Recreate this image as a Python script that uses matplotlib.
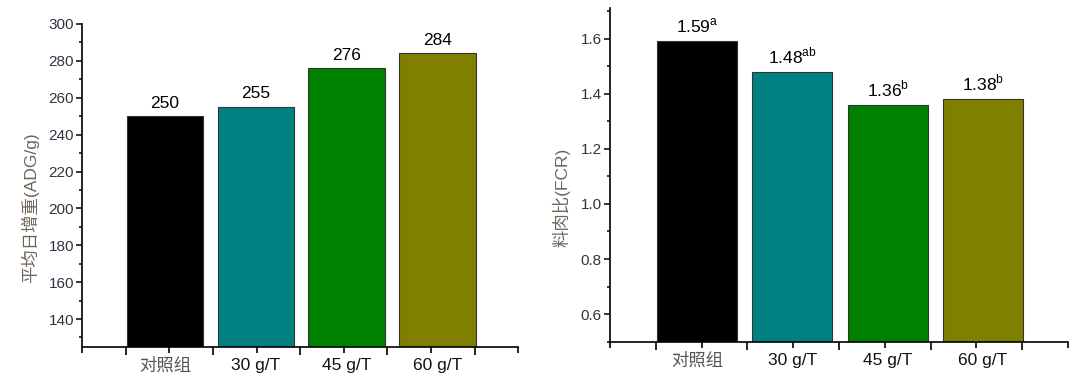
import matplotlib
matplotlib.use('Agg')
import matplotlib.pyplot as plt
from matplotlib.ticker import MultipleLocator, FixedLocator, NullFormatter

plt.rcParams['font.family'] = ['Liberation Sans', 'Noto Sans CJK SC', 'DejaVu Sans']
plt.rcParams['mathtext.fontset'] = 'custom'
plt.rcParams['mathtext.rm'] = 'Liberation Sans'

groups = ['对照组', '30 g/T', '45 g/T', '60 g/T']
colors = ['#000000', '#008080', '#008000', '#808000']

adg = [250, 255, 276, 284]
fcr = [1.59, 1.48, 1.36, 1.38]
fcr_letters = ['a', 'ab', 'b', 'b']

pos = [1, 2, 3, 4]
tick_col = '#333344'

fig = plt.figure(figsize=(10.8, 3.82), dpi=100)
ax1 = fig.add_axes([0.0762, 0.0924, 0.4037, 0.8448])
ax2 = fig.add_axes([0.5648, 0.1055, 0.4241, 0.8728])


def style_axis(ax):
    ax.spines['top'].set_visible(False)
    ax.spines['right'].set_visible(False)
    ax.spines['left'].set_linewidth(1.2)
    ax.spines['bottom'].set_linewidth(1.2)
    ax.set_xlim(0.09, 4.89)
    # origin-style ticks: major between bars, minor at the middle
    ax.xaxis.set_major_locator(FixedLocator([0.57, 1.53, 2.49, 3.45, 4.41]))
    ax.xaxis.set_minor_locator(FixedLocator([0.09, 1.05, 2.01, 2.97, 3.93, 4.89]))
    ax.xaxis.set_major_formatter(NullFormatter())
    ax.tick_params(axis='x', which='major', direction='out', length=6, width=1.2)
    ax.tick_params(axis='x', which='minor', direction='out', length=4, width=1.2)
    ax.tick_params(axis='y', which='major', direction='out', length=4, width=1.1,
                   labelsize=11, labelcolor=tick_col, pad=2)
    ax.tick_params(axis='y', which='minor', direction='out', length=2.5, width=1.1)
    for p, g in zip(pos, groups):
        c = '#555555' if g == '对照组' else '#111111'
        ax.annotate(g, (p, 0), xycoords=('data', 'axes fraction'),
                    xytext=(0, -8), textcoords='offset points',
                    ha='center', va='top', fontsize=12.5, color=c)


# left: average daily gain
ax1.bar(pos, adg, width=0.84, color=colors, edgecolor='#333333', linewidth=0.8)
ax1.set_ylim(125, 300)
ax1.yaxis.set_major_locator(FixedLocator([140, 160, 180, 200, 220, 240, 260, 280, 300]))
ax1.yaxis.set_minor_locator(MultipleLocator(10))
style_axis(ax1)
for p, v in zip(pos, adg):
    ax1.annotate(str(v), (p, v), xytext=(0, 4), textcoords='offset points',
                 ha='center', va='bottom', fontsize=12.5)
ax1.set_ylabel('平均日增重(ADG/g)', fontsize=12.5, color='#6f6458')
ax1.yaxis.set_label_coords(-0.10, 0.43)

# right: feed conversion ratio
ax2.bar(pos, fcr, width=0.84, color=colors, edgecolor='#333333', linewidth=0.8)
ax2.set_ylim(0.5, 1.71)
ax2.yaxis.set_major_locator(FixedLocator([0.6, 0.8, 1.0, 1.2, 1.4, 1.6]))
ax2.yaxis.set_minor_locator(MultipleLocator(0.1))
ax2.yaxis.set_major_formatter(plt.FuncFormatter(lambda v, p: f'{v:.1f}'))
style_axis(ax2)
for p, v, l in zip(pos, fcr, fcr_letters):
    ax2.annotate(f'{v:.2f}$^{{\\mathrm{{{l}}}}}$', (p, v), xytext=(0, 4),
                 textcoords='offset points', ha='center', va='bottom', fontsize=12.5)
ax2.set_ylabel('料肉比(FCR)', fontsize=12.5, color='#6f6458')
ax2.yaxis.set_label_coords(-0.087, 0.434)

fig.savefig('out.png', dpi=100)
